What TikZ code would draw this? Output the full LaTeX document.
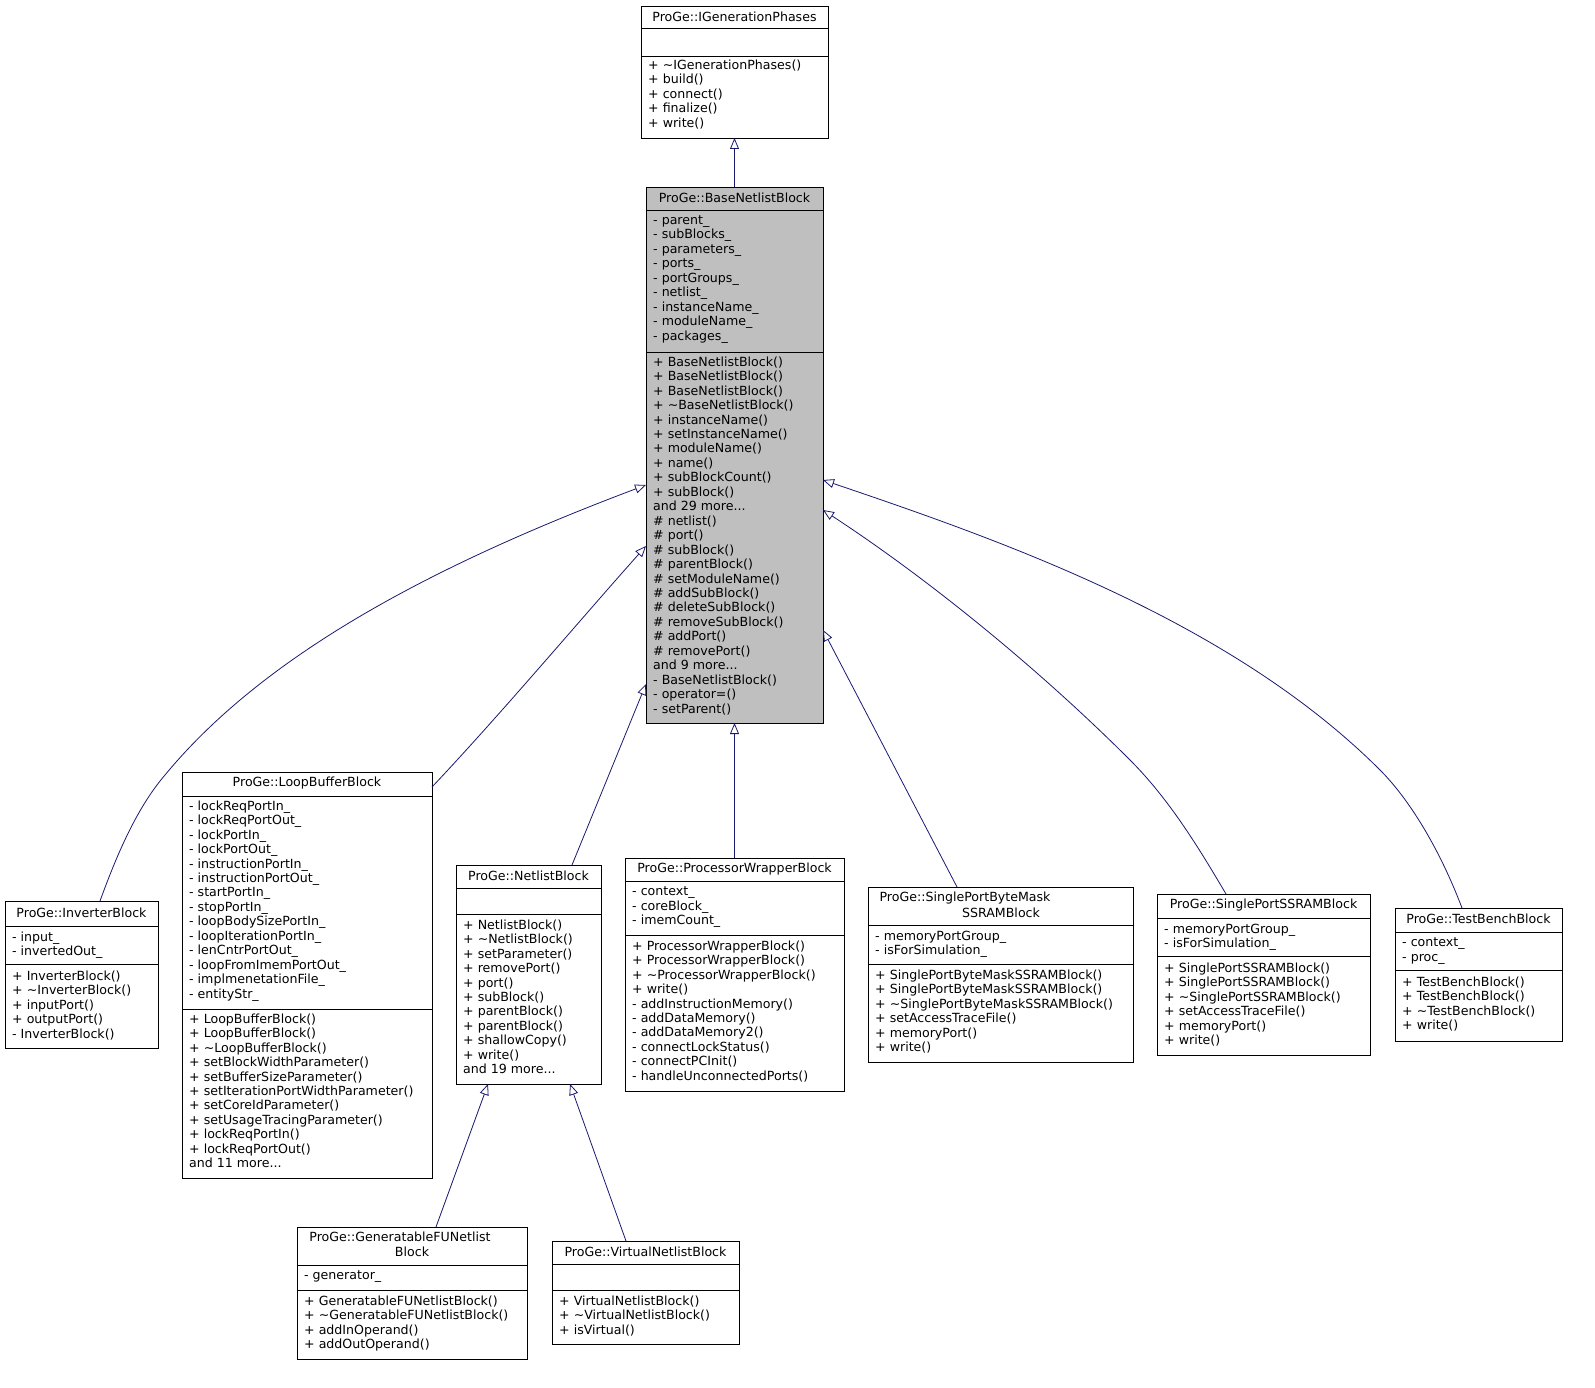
\documentclass[tikz,border=0pt]{standalone}
\usepackage{fontspec}
\setmainfont{DejaVu Sans}
\usetikzlibrary{arrows.meta}
\definecolor{edge}{HTML}{191970}
\tikzset{
 box/.style={draw=black, line width=0.8pt, anchor=north west, inner sep=0pt, outer sep=0pt},
 txt/.style={inner sep=0pt, align=left, anchor=north west, yshift=-1.5pt, font=\fontsize{12.6}{14.45}\selectfont},
 ttl/.style={inner sep=0pt, font=\fontsize{12.6}{14.45}\selectfont},
 inh/.style={draw=edge, line width=0.8pt, -{Triangle[open, length=11pt, width=9pt]}},
}
\newcommand\cls[6]{\node[box, fill=#6, minimum width={(#4-#2)*1pt}, minimum height={(#5-#3)*1pt}] (#1) at (#2,#3) {};}
\newcommand\sepl[3]{\draw[line width=0.8pt] (#1,#3) -- (#2,#3);}
\begin{document}
\begin{tikzpicture}[x=1pt,y=-1pt]
\useasboundingbox (0,0) rectangle (1595,1388);
% IGenerationPhases
\cls{ig}{641}{6}{828}{138}{white}
\sepl{641}{828}{28}\sepl{641}{828}{56}
\node[ttl] at (734.5,17) {ProGe::IGenerationPhases};
\node[txt] at (648,58) {+ \textasciitilde IGenerationPhases()\\+ build()\\+ connect()\\+ finalize()\\+ write()};
% BaseNetlistBlock
\cls{base}{646}{187}{823}{723}{black!25!white}
\sepl{646}{823}{210}\sepl{646}{823}{352}
\node[ttl] at (734.5,198) {ProGe::BaseNetlistBlock};
\node[txt] at (653,214) {- parent\_\\- subBlocks\_\\- parameters\_\\- ports\_\\- portGroups\_\\- netlist\_\\- instanceName\_\\- moduleName\_\\- packages\_};
\node[txt] at (653,355) {+ BaseNetlistBlock()\\+ BaseNetlistBlock()\\+ BaseNetlistBlock()\\+ \textasciitilde BaseNetlistBlock()\\+ instanceName()\\+ setInstanceName()\\+ moduleName()\\+ name()\\+ subBlockCount()\\+ subBlock()\\and 29 more...\\\# netlist()\\\# port()\\\# subBlock()\\\# parentBlock()\\\# setModuleName()\\\# addSubBlock()\\\# deleteSubBlock()\\\# removeSubBlock()\\\# addPort()\\\# removePort()\\and 9 more...\\- BaseNetlistBlock()\\- operator=()\\- setParent()};
% InverterBlock
\cls{inv}{5}{901}{158}{1048}{white}
\sepl{5}{158}{926}\sepl{5}{158}{964}
\node[ttl] at (81.5,913) {ProGe::InverterBlock};
\node[txt] at (12,930) {- input\_\\- invertedOut\_};
\node[txt] at (12,969) {+ InverterBlock()\\+ \textasciitilde InverterBlock()\\+ inputPort()\\+ outputPort()\\- InverterBlock()};
% LoopBufferBlock
\cls{loop}{182}{772}{432}{1178}{white}
\sepl{182}{432}{796}\sepl{182}{432}{1009}
\node[ttl] at (307,783) {ProGe::LoopBufferBlock};
\node[txt] at (189,799) {- lockReqPortIn\_\\- lockReqPortOut\_\\- lockPortIn\_\\- lockPortOut\_\\- instructionPortIn\_\\- instructionPortOut\_\\- startPortIn\_\\- stopPortIn\_\\- loopBodySizePortIn\_\\- loopIterationPortIn\_\\- lenCntrPortOut\_\\- loopFromImemPortOut\_\\- implmenetationFile\_\\- entityStr\_};
\node[txt] at (189,1012) {+ LoopBufferBlock()\\+ LoopBufferBlock()\\+ \textasciitilde LoopBufferBlock()\\+ setBlockWidthParameter()\\+ setBufferSizeParameter()\\+ setIterationPortWidthParameter()\\+ setCoreIdParameter()\\+ setUsageTracingParameter()\\+ lockReqPortIn()\\+ lockReqPortOut()\\and 11 more...};
% NetlistBlock
\cls{nb}{456}{865}{601}{1084}{white}
\sepl{456}{601}{888}\sepl{456}{601}{914}
\node[ttl] at (528.5,876) {ProGe::NetlistBlock};
\node[txt] at (463,918) {+ NetlistBlock()\\+ \textasciitilde NetlistBlock()\\+ setParameter()\\+ removePort()\\+ port()\\+ subBlock()\\+ parentBlock()\\+ parentBlock()\\+ shallowCopy()\\+ write()\\and 19 more...};
% ProcessorWrapperBlock
\cls{pw}{625}{858}{844}{1091}{white}
\sepl{625}{844}{881}\sepl{625}{844}{935}
\node[ttl] at (734.5,869) {ProGe::ProcessorWrapperBlock};
\node[txt] at (632,885) {- context\_\\- coreBlock\_\\- imemCount\_};
\node[txt] at (632,939) {+ ProcessorWrapperBlock()\\+ ProcessorWrapperBlock()\\+ \textasciitilde ProcessorWrapperBlock()\\+ write()\\- addInstructionMemory()\\- addDataMemory()\\- addDataMemory2()\\- connectLockStatus()\\- connectPCInit()\\- handleUnconnectedPorts()};
% SinglePortByteMaskSSRAMBlock
\cls{spbm}{868}{887}{1133}{1062}{white}
\sepl{868}{1133}{925}\sepl{868}{1133}{964}
\node[ttl] at (965,898) {ProGe::SinglePortByteMask};
\node[ttl] at (1001,913) {SSRAMBlock};
\node[txt] at (875,929) {- memoryPortGroup\_\\- isForSimulation\_};
\node[txt] at (875,968) {+ SinglePortByteMaskSSRAMBlock()\\+ SinglePortByteMaskSSRAMBlock()\\+ \textasciitilde SinglePortByteMaskSSRAMBlock()\\+ setAccessTraceFile()\\+ memoryPort()\\+ write()};
% SinglePortSSRAMBlock
\cls{sps}{1157}{894}{1370}{1055}{white}
\sepl{1157}{1370}{918}\sepl{1157}{1370}{956}
\node[ttl] at (1263.5,905) {ProGe::SinglePortSSRAMBlock};
\node[txt] at (1164,922) {- memoryPortGroup\_\\- isForSimulation\_};
\node[txt] at (1164,961) {+ SinglePortSSRAMBlock()\\+ SinglePortSSRAMBlock()\\+ \textasciitilde SinglePortSSRAMBlock()\\+ setAccessTraceFile()\\+ memoryPort()\\+ write()};
% TestBenchBlock
\cls{tb}{1395}{908}{1562}{1041}{white}
\sepl{1395}{1562}{932}\sepl{1395}{1562}{970}
\node[ttl] at (1478.5,919) {ProGe::TestBenchBlock};
\node[txt] at (1402,936) {- context\_\\- proc\_};
\node[txt] at (1402,975) {+ TestBenchBlock()\\+ TestBenchBlock()\\+ \textasciitilde TestBenchBlock()\\+ write()};
% GeneratableFUNetlistBlock
\cls{gfu}{297}{1227}{527}{1359}{white}
\sepl{297}{527}{1265}\sepl{297}{527}{1290}
\node[ttl] at (400,1237) {ProGe::GeneratableFUNetlist};
\node[ttl] at (412,1252) {Block};
\node[txt] at (304,1269) {- generator\_};
\node[txt] at (304,1294) {+ GeneratableFUNetlistBlock()\\+ \textasciitilde GeneratableFUNetlistBlock()\\+ addInOperand()\\+ addOutOperand()};
% VirtualNetlistBlock
\cls{vnb}{552}{1241}{739}{1344}{white}
\sepl{552}{739}{1264}\sepl{552}{739}{1290}
\node[ttl] at (645.5,1252) {ProGe::VirtualNetlistBlock};
\node[txt] at (559,1294) {+ VirtualNetlistBlock()\\+ \textasciitilde VirtualNetlistBlock()\\+ isVirtual()};
% edges
\coordinate (bi) at (646,485);
\coordinate (bl) at (646,546);
\coordinate (bn) at (646,684);
\coordinate (bs) at (823,630);
\coordinate (bp) at (823,510);
\coordinate (bt) at (823,480);
\draw[inh] (base.north) -- (ig.south);
\draw[inh] (inv.north -| 100,0) .. controls (115,860) and (135,810) .. (165,775) .. controls (260,660) and (420,570) .. (bi);
\draw[inh] (loop.north east) ++(0,15) .. controls (500,715) and (580,620) .. (bl);
\draw[inh] (nb.north -| 572,0) -- (bn);
\draw[inh] (pw.north) -- (base.south);
\draw[inh] (spbm.north -| 957,0) -- (bs);
\draw[inh] (sps.north -| 1226,0) .. controls (1200,850) and (1170,800) .. (1130,760) .. controls (1040,670) and (930,580) .. (bp);
\draw[inh] (tb.north -| 1462,0) .. controls (1440,850) and (1410,800) .. (1380,770) .. controls (1230,620) and (1000,540) .. (bt);
\draw[inh] (gfu.north -| 436,0) -- (nb.south -| 488,0);
\draw[inh] (vnb.north -| 626,0) -- (nb.south -| 570,0);
\end{tikzpicture}
\end{document}
